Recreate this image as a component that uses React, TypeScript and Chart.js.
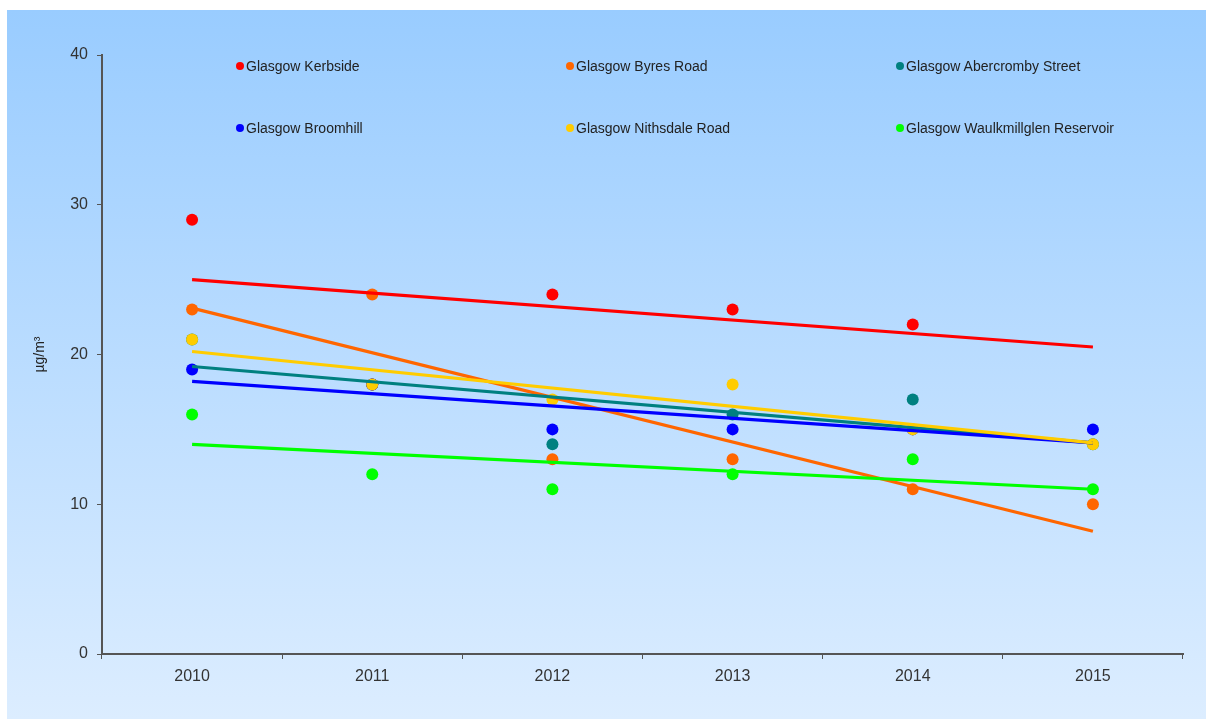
import React, { useEffect, useRef } from "react";
import { Chart, registerables } from "chart.js";

Chart.register(...registerables);

const years = ["2010", "2011", "2012", "2013", "2014", "2015"];
const seriesNames = [
  "Glasgow Kerbside",
  "Glasgow Byres Road",
  "Glasgow Abercromby Street",
  "Glasgow Broomhill",
  "Glasgow Nithsdale Road",
  "Glasgow Waulkmillglen Reservoir",
];
const seriesColors = ["#FF0000", "#FF6600", "#008080", "#0000FF", "#FFCC00", "#00FF00"];

const kerbside = [29, 18, 24, 23, 22, null];
const byresRoad = [23, 24, 13, 13, 11, 10];
const abercromby = [21, 18, 14, 16, 17, 14];
const broomhill = [19, 18, 15, 15, 15, 15];
const nithsdale = [21, 18, 17, 18, 15, 14];
const waulkmillglen = [16, 12, 11, 12, 13, 11];
const seriesValues = [kerbside, byresRoad, abercromby, broomhill, nithsdale, waulkmillglen];

// trend line end values (at 2010 and 2015)
const trendStart = [25.0, 23.1, 19.2, 18.2, 20.2, 14.0];
const trendEnd = [20.5, 8.2, 14.1, 14.1, 14.1, 11.0];

const yMin = 0;
const yMax = 40;
const yStep = 10;
const yTitle = "µg/m³";

const FONT = "'Liberation Sans', Arial, sans-serif";

export default function App() {
  const canvasRef = useRef<HTMLCanvasElement | null>(null);

  useEffect(() => {
    if (!canvasRef.current) return;
    const pointSets = seriesNames.map((name, i) => ({
      type: "line" as const,
      label: name,
      data: seriesValues[i],
      showLine: false,
      pointRadius: 6,
      pointHoverRadius: 6,
      pointBorderWidth: 0,
      pointBackgroundColor: seriesColors[i],
      borderColor: seriesColors[i],
      backgroundColor: seriesColors[i],
      order: 200 - i,
    }));
    const trendSets = seriesNames.map((name, i) => ({
      type: "line" as const,
      label: name + " trend",
      data: years.map((_, j) => (j === 0 ? trendStart[i] : j === years.length - 1 ? trendEnd[i] : null)),
      spanGaps: true,
      borderColor: seriesColors[i],
      borderWidth: 3.2,
      pointRadius: 0,
      pointHoverRadius: 0,
      fill: false,
      order: 100 - i,
    }));

    const chart = new Chart(canvasRef.current, {
      type: "line",
      data: { labels: years, datasets: [...pointSets, ...trendSets] as any },
      options: {
        animation: false,
        responsive: false,
        maintainAspectRatio: false,
        layout: { padding: { top: 45, right: 23, left: 0, bottom: 0 } },
        plugins: { legend: { display: false }, tooltip: { enabled: false } },
        scales: {
          x: {
            type: "category",
            offset: true,
            afterFit: (s: any) => {
              s.height = 65;
            },
            grid: {
              display: true,
              offset: true,
              drawOnChartArea: false,
              drawTicks: true,
              tickLength: 5,
              color: "#555",
              lineWidth: 1,
            },
            border: { display: true, color: "#555", width: 2 },
            ticks: { color: "#333", font: { family: FONT, size: 16 }, padding: 8 },
          },
          y: {
            min: yMin,
            max: yMax,
            afterFit: (s: any) => {
              s.width = 95;
            },
            ticks: { stepSize: yStep, color: "#333", font: { family: FONT, size: 16 }, padding: 9 },
            grid: {
              display: true,
              drawOnChartArea: false,
              drawTicks: true,
              tickLength: 5,
              color: "#555",
              lineWidth: 1,
            },
            border: { display: true, color: "#555", width: 2 },
            title: {
              display: true,
              text: yTitle,
              color: "#222",
              font: { family: FONT, size: 14 },
              padding: { top: 25, bottom: 0 },
            },
          },
        },
      } as any,
    });
    return () => chart.destroy();
  }, []);

  const legendCols = [240, 570, 900];
  const legendRows = [66, 128];

  return (
    <div style={{ position: "fixed", left: 0, top: 0, width: 1206, height: 719, background: "#fff" }}>
      <div
        style={{
          position: "absolute",
          left: 7,
          top: 10,
          width: 1199,
          height: 709,
          background: "linear-gradient(to bottom, #99ccff 0%, #dcedff 100%)",
        }}
      >
        <canvas ref={canvasRef} width={1199} height={709} style={{ display: "block", width: 1199, height: 709 }} />
        {seriesNames.map((name, i) => {
          const cx = legendCols[i % 3] - 7;
          const cy = legendRows[Math.floor(i / 3)] - 10;
          return (
            <React.Fragment key={name}>
              <div
                style={{
                  position: "absolute",
                  left: cx - 4,
                  top: cy - 4,
                  width: 8,
                  height: 8,
                  borderRadius: 4,
                  background: seriesColors[i],
                }}
              />
              <div
                style={{
                  position: "absolute",
                  left: cx + 6,
                  top: cy - 9,
                  height: 18,
                  lineHeight: "18px",
                  fontFamily: FONT,
                  fontSize: 14,
                  color: "#222",
                  whiteSpace: "nowrap",
                }}
              >
                {name}
              </div>
            </React.Fragment>
          );
        })}
      </div>
    </div>
  );
}
